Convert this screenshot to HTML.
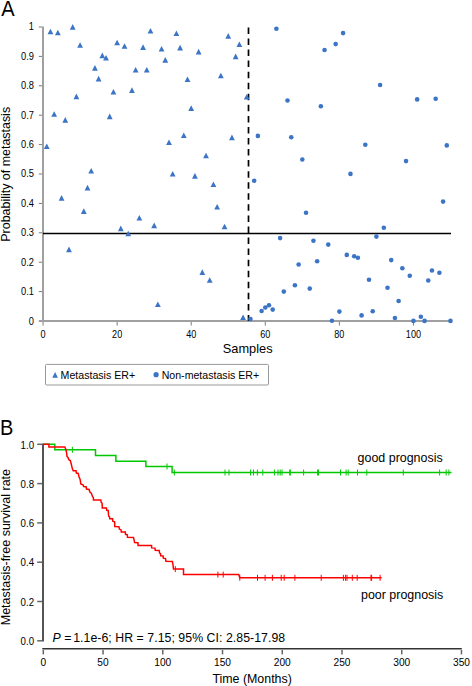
<!DOCTYPE html>
<html><head><meta charset="utf-8"><style>
html,body{margin:0;padding:0;background:#fff;width:472px;height:686px;overflow:hidden}
svg{display:block}
text{font-family:"Liberation Sans", sans-serif;fill:#000}
</style></head><body>
<svg width="472" height="686" viewBox="0 0 472 686">
<text transform="translate(1.2 16.4) scale(0.92 1)" font-size="21.8">A</text>
<line x1="43" y1="26.5" x2="43" y2="322" stroke="#a0a0a0" stroke-width="2"/>
<line x1="38.8" y1="321" x2="451" y2="321" stroke="#a0a0a0" stroke-width="2"/>
<text transform="translate(34 324.60) scale(0.93 1)" font-size="10" text-anchor="end">0</text>
<line x1="38.8" y1="291.60" x2="42" y2="291.60" stroke="#7a7a7a" stroke-width="1"/>
<text transform="translate(34 295.00) scale(0.93 1)" font-size="10" text-anchor="end">0.1</text>
<line x1="38.8" y1="262.20" x2="42" y2="262.20" stroke="#7a7a7a" stroke-width="1"/>
<text transform="translate(34 265.60) scale(0.93 1)" font-size="10" text-anchor="end">0.2</text>
<line x1="38.8" y1="232.80" x2="42" y2="232.80" stroke="#7a7a7a" stroke-width="1"/>
<text transform="translate(34 236.20) scale(0.93 1)" font-size="10" text-anchor="end">0.3</text>
<line x1="38.8" y1="203.40" x2="42" y2="203.40" stroke="#7a7a7a" stroke-width="1"/>
<text transform="translate(34 206.80) scale(0.93 1)" font-size="10" text-anchor="end">0.4</text>
<line x1="38.8" y1="174.00" x2="42" y2="174.00" stroke="#7a7a7a" stroke-width="1"/>
<text transform="translate(34 177.20) scale(0.93 1)" font-size="10" text-anchor="end">0.5</text>
<line x1="38.8" y1="144.60" x2="42" y2="144.60" stroke="#7a7a7a" stroke-width="1"/>
<text transform="translate(34 148.00) scale(0.93 1)" font-size="10" text-anchor="end">0.6</text>
<line x1="38.8" y1="115.20" x2="42" y2="115.20" stroke="#7a7a7a" stroke-width="1"/>
<text transform="translate(34 118.60) scale(0.93 1)" font-size="10" text-anchor="end">0.7</text>
<line x1="38.8" y1="85.80" x2="42" y2="85.80" stroke="#7a7a7a" stroke-width="1"/>
<text transform="translate(34 89.20) scale(0.93 1)" font-size="10" text-anchor="end">0.8</text>
<line x1="38.8" y1="56.40" x2="42" y2="56.40" stroke="#7a7a7a" stroke-width="1"/>
<text transform="translate(34 59.80) scale(0.93 1)" font-size="10" text-anchor="end">0.9</text>
<line x1="38.8" y1="27.00" x2="42" y2="27.00" stroke="#7a7a7a" stroke-width="1"/>
<text transform="translate(34 30.20) scale(0.93 1)" font-size="10" text-anchor="end">1</text>
<line x1="43.05" y1="322" x2="43.05" y2="325.5" stroke="#7a7a7a" stroke-width="1"/>
<text transform="translate(43.05 337.9) scale(0.91 1)" font-size="10" text-anchor="middle">0</text>
<line x1="117.13" y1="322" x2="117.13" y2="325.5" stroke="#7a7a7a" stroke-width="1"/>
<text transform="translate(117.13 337.9) scale(0.91 1)" font-size="10" text-anchor="middle">20</text>
<line x1="191.21" y1="322" x2="191.21" y2="325.5" stroke="#7a7a7a" stroke-width="1"/>
<text transform="translate(191.21 337.9) scale(0.91 1)" font-size="10" text-anchor="middle">40</text>
<line x1="265.29" y1="322" x2="265.29" y2="325.5" stroke="#7a7a7a" stroke-width="1"/>
<text transform="translate(265.29 337.9) scale(0.91 1)" font-size="10" text-anchor="middle">60</text>
<line x1="339.37" y1="322" x2="339.37" y2="325.5" stroke="#7a7a7a" stroke-width="1"/>
<text transform="translate(339.37 337.9) scale(0.91 1)" font-size="10" text-anchor="middle">80</text>
<line x1="413.45" y1="322" x2="413.45" y2="325.5" stroke="#7a7a7a" stroke-width="1"/>
<text transform="translate(413.45 337.9) scale(0.91 1)" font-size="10" text-anchor="middle">100</text>
<line x1="43" y1="233.5" x2="451" y2="233.5" stroke="#000" stroke-width="1.5"/>
<line x1="248.5" y1="27.4" x2="248.5" y2="321" stroke="#000" stroke-width="1.7" stroke-dasharray="6.5 4.56"/>
<path d="M46.75 143.40L49.65 149.00L43.85 149.00Z" fill="#3c74c6"/>
<path d="M50.46 28.70L53.36 34.30L47.56 34.30Z" fill="#3c74c6"/>
<path d="M54.16 111.20L57.06 116.80L51.26 116.80Z" fill="#3c74c6"/>
<path d="M57.87 29.70L60.77 35.30L54.97 35.30Z" fill="#3c74c6"/>
<path d="M61.57 195.10L64.47 200.70L58.67 200.70Z" fill="#3c74c6"/>
<path d="M65.27 117.10L68.17 122.70L62.37 122.70Z" fill="#3c74c6"/>
<path d="M68.98 246.60L71.88 252.20L66.08 252.20Z" fill="#3c74c6"/>
<path d="M72.68 24.10L75.58 29.70L69.78 29.70Z" fill="#3c74c6"/>
<path d="M76.39 93.60L79.29 99.20L73.49 99.20Z" fill="#3c74c6"/>
<path d="M80.09 42.20L82.99 47.80L77.19 47.80Z" fill="#3c74c6"/>
<path d="M83.79 208.30L86.69 213.90L80.89 213.90Z" fill="#3c74c6"/>
<path d="M87.50 184.80L90.40 190.40L84.60 190.40Z" fill="#3c74c6"/>
<path d="M91.20 168.00L94.10 173.60L88.30 173.60Z" fill="#3c74c6"/>
<path d="M94.91 65.10L97.81 70.70L92.01 70.70Z" fill="#3c74c6"/>
<path d="M98.61 75.80L101.51 81.40L95.71 81.40Z" fill="#3c74c6"/>
<path d="M102.31 52.60L105.21 58.20L99.41 58.20Z" fill="#3c74c6"/>
<path d="M106.02 54.90L108.92 60.50L103.12 60.50Z" fill="#3c74c6"/>
<path d="M109.72 113.60L112.62 119.20L106.82 119.20Z" fill="#3c74c6"/>
<path d="M113.43 89.00L116.33 94.60L110.53 94.60Z" fill="#3c74c6"/>
<path d="M117.13 39.70L120.03 45.30L114.23 45.30Z" fill="#3c74c6"/>
<path d="M120.83 225.60L123.73 231.20L117.93 231.20Z" fill="#3c74c6"/>
<path d="M124.54 43.20L127.44 48.80L121.64 48.80Z" fill="#3c74c6"/>
<path d="M128.24 230.70L131.14 236.30L125.34 236.30Z" fill="#3c74c6"/>
<path d="M131.95 87.30L134.85 92.90L129.05 92.90Z" fill="#3c74c6"/>
<path d="M135.65 67.00L138.55 72.60L132.75 72.60Z" fill="#3c74c6"/>
<path d="M139.35 214.90L142.25 220.50L136.45 220.50Z" fill="#3c74c6"/>
<path d="M143.06 44.30L145.96 49.90L140.16 49.90Z" fill="#3c74c6"/>
<path d="M146.76 67.00L149.66 72.60L143.86 72.60Z" fill="#3c74c6"/>
<path d="M150.47 28.00L153.37 33.60L147.57 33.60Z" fill="#3c74c6"/>
<path d="M154.17 222.60L157.07 228.20L151.27 228.20Z" fill="#3c74c6"/>
<path d="M157.87 301.50L160.77 307.10L154.97 307.10Z" fill="#3c74c6"/>
<path d="M161.58 46.00L164.48 51.60L158.68 51.60Z" fill="#3c74c6"/>
<path d="M165.28 57.10L168.18 62.70L162.38 62.70Z" fill="#3c74c6"/>
<path d="M168.99 139.50L171.89 145.10L166.09 145.10Z" fill="#3c74c6"/>
<path d="M172.69 171.00L175.59 176.60L169.79 176.60Z" fill="#3c74c6"/>
<path d="M176.39 30.40L179.29 36.00L173.49 36.00Z" fill="#3c74c6"/>
<path d="M180.10 44.80L183.00 50.40L177.20 50.40Z" fill="#3c74c6"/>
<path d="M183.80 132.40L186.70 138.00L180.90 138.00Z" fill="#3c74c6"/>
<path d="M187.51 76.50L190.41 82.10L184.61 82.10Z" fill="#3c74c6"/>
<path d="M191.21 105.30L194.11 110.90L188.31 110.90Z" fill="#3c74c6"/>
<path d="M194.91 173.10L197.81 178.70L192.01 178.70Z" fill="#3c74c6"/>
<path d="M198.62 48.80L201.52 54.40L195.72 54.40Z" fill="#3c74c6"/>
<path d="M202.32 269.30L205.22 274.90L199.42 274.90Z" fill="#3c74c6"/>
<path d="M206.03 152.70L208.93 158.30L203.13 158.30Z" fill="#3c74c6"/>
<path d="M209.73 277.20L212.63 282.80L206.83 282.80Z" fill="#3c74c6"/>
<path d="M213.43 181.50L216.33 187.10L210.53 187.10Z" fill="#3c74c6"/>
<path d="M217.14 203.90L220.04 209.50L214.24 209.50Z" fill="#3c74c6"/>
<path d="M220.84 72.70L223.74 78.30L217.94 78.30Z" fill="#3c74c6"/>
<path d="M224.55 223.70L227.45 229.30L221.65 229.30Z" fill="#3c74c6"/>
<path d="M228.25 33.10L231.15 38.70L225.35 38.70Z" fill="#3c74c6"/>
<path d="M231.95 134.60L234.85 140.20L229.05 140.20Z" fill="#3c74c6"/>
<path d="M235.66 53.60L238.56 59.20L232.76 59.20Z" fill="#3c74c6"/>
<path d="M239.36 41.40L242.26 47.00L236.46 47.00Z" fill="#3c74c6"/>
<path d="M243.07 314.50L245.97 320.10L240.17 320.10Z" fill="#3c74c6"/>
<path d="M246.77 93.90L249.67 99.50L243.87 99.50Z" fill="#3c74c6"/>
<circle cx="250.47" cy="319.10" r="2.3" fill="#3c74c6"/>
<circle cx="254.18" cy="180.80" r="2.3" fill="#3c74c6"/>
<circle cx="257.88" cy="135.90" r="2.3" fill="#3c74c6"/>
<circle cx="261.59" cy="311.00" r="2.3" fill="#3c74c6"/>
<circle cx="265.29" cy="307.50" r="2.3" fill="#3c74c6"/>
<circle cx="268.99" cy="305.30" r="2.3" fill="#3c74c6"/>
<circle cx="272.70" cy="309.60" r="2.3" fill="#3c74c6"/>
<circle cx="276.40" cy="28.80" r="2.3" fill="#3c74c6"/>
<circle cx="280.11" cy="238.10" r="2.3" fill="#3c74c6"/>
<circle cx="283.81" cy="291.60" r="2.3" fill="#3c74c6"/>
<circle cx="287.51" cy="100.50" r="2.3" fill="#3c74c6"/>
<circle cx="291.22" cy="137.30" r="2.3" fill="#3c74c6"/>
<circle cx="294.92" cy="285.20" r="2.3" fill="#3c74c6"/>
<circle cx="298.63" cy="264.50" r="2.3" fill="#3c74c6"/>
<circle cx="302.33" cy="159.50" r="2.3" fill="#3c74c6"/>
<circle cx="306.03" cy="212.70" r="2.3" fill="#3c74c6"/>
<circle cx="309.74" cy="288.60" r="2.3" fill="#3c74c6"/>
<circle cx="313.44" cy="240.70" r="2.3" fill="#3c74c6"/>
<circle cx="317.15" cy="261.30" r="2.3" fill="#3c74c6"/>
<circle cx="320.85" cy="106.30" r="2.3" fill="#3c74c6"/>
<circle cx="324.55" cy="50.00" r="2.3" fill="#3c74c6"/>
<circle cx="328.26" cy="244.60" r="2.3" fill="#3c74c6"/>
<circle cx="331.96" cy="320.80" r="2.3" fill="#3c74c6"/>
<circle cx="335.67" cy="44.10" r="2.3" fill="#3c74c6"/>
<circle cx="339.37" cy="311.60" r="2.3" fill="#3c74c6"/>
<circle cx="343.07" cy="33.10" r="2.3" fill="#3c74c6"/>
<circle cx="346.78" cy="254.90" r="2.3" fill="#3c74c6"/>
<circle cx="350.48" cy="173.90" r="2.3" fill="#3c74c6"/>
<circle cx="354.19" cy="256.30" r="2.3" fill="#3c74c6"/>
<circle cx="357.89" cy="257.80" r="2.3" fill="#3c74c6"/>
<circle cx="361.59" cy="315.40" r="2.3" fill="#3c74c6"/>
<circle cx="365.30" cy="144.80" r="2.3" fill="#3c74c6"/>
<circle cx="369.00" cy="279.80" r="2.3" fill="#3c74c6"/>
<circle cx="372.71" cy="311.20" r="2.3" fill="#3c74c6"/>
<circle cx="376.41" cy="236.60" r="2.3" fill="#3c74c6"/>
<circle cx="380.11" cy="85.00" r="2.3" fill="#3c74c6"/>
<circle cx="383.82" cy="227.70" r="2.3" fill="#3c74c6"/>
<circle cx="387.52" cy="287.70" r="2.3" fill="#3c74c6"/>
<circle cx="391.23" cy="260.10" r="2.3" fill="#3c74c6"/>
<circle cx="394.93" cy="318.00" r="2.3" fill="#3c74c6"/>
<circle cx="398.63" cy="301.00" r="2.3" fill="#3c74c6"/>
<circle cx="402.34" cy="268.20" r="2.3" fill="#3c74c6"/>
<circle cx="406.04" cy="161.10" r="2.3" fill="#3c74c6"/>
<circle cx="409.75" cy="275.80" r="2.3" fill="#3c74c6"/>
<circle cx="413.45" cy="320.90" r="2.3" fill="#3c74c6"/>
<circle cx="417.15" cy="99.40" r="2.3" fill="#3c74c6"/>
<circle cx="420.86" cy="316.70" r="2.3" fill="#3c74c6"/>
<circle cx="424.56" cy="320.90" r="2.3" fill="#3c74c6"/>
<circle cx="428.27" cy="280.50" r="2.3" fill="#3c74c6"/>
<circle cx="431.97" cy="270.50" r="2.3" fill="#3c74c6"/>
<circle cx="435.67" cy="98.80" r="2.3" fill="#3c74c6"/>
<circle cx="439.38" cy="272.80" r="2.3" fill="#3c74c6"/>
<circle cx="443.08" cy="201.60" r="2.3" fill="#3c74c6"/>
<circle cx="446.79" cy="145.40" r="2.3" fill="#3c74c6"/>
<circle cx="450.49" cy="320.90" r="2.3" fill="#3c74c6"/>
<text transform="translate(10.4 174.3) rotate(-90)" font-size="12.45" text-anchor="middle">Probability of metastasis</text>
<text x="247.7" y="353" font-size="12.8" text-anchor="middle">Samples</text>
<rect x="45.5" y="364.4" width="223" height="20.6" fill="none" stroke="#999" stroke-width="1" rx="1"/>
<path d="M55.10 372.10L57.90 377.70L52.30 377.70Z" fill="#3c74c6"/>
<text x="60.6" y="378.8" font-size="10.6">Metastasis ER+</text>
<circle cx="156.1" cy="374.7" r="2.6" fill="#3c74c6"/>
<text x="161.7" y="378.8" font-size="10.6">Non-metastasis ER+</text>
<text transform="translate(0.1 434.7) scale(0.93 1)" font-size="21.5">B</text>
<line x1="43" y1="443.5" x2="43" y2="641.5" stroke="#555" stroke-width="2"/>
<line x1="37.2" y1="640.80" x2="42" y2="640.80" stroke="#666" stroke-width="1.5"/>
<text transform="translate(34.1 645.00) scale(0.97 1)" font-size="10" text-anchor="end">0.0</text>
<line x1="37.2" y1="601.50" x2="42" y2="601.50" stroke="#666" stroke-width="1.5"/>
<text transform="translate(34.1 605.70) scale(0.97 1)" font-size="10" text-anchor="end">0.2</text>
<line x1="37.2" y1="562.20" x2="42" y2="562.20" stroke="#666" stroke-width="1.5"/>
<text transform="translate(34.1 566.40) scale(0.97 1)" font-size="10" text-anchor="end">0.4</text>
<line x1="37.2" y1="522.90" x2="42" y2="522.90" stroke="#666" stroke-width="1.5"/>
<text transform="translate(34.1 527.10) scale(0.97 1)" font-size="10" text-anchor="end">0.6</text>
<line x1="37.2" y1="483.60" x2="42" y2="483.60" stroke="#666" stroke-width="1.5"/>
<text transform="translate(34.1 487.80) scale(0.97 1)" font-size="10" text-anchor="end">0.8</text>
<line x1="37.2" y1="444.30" x2="42" y2="444.30" stroke="#666" stroke-width="1.5"/>
<text transform="translate(34.1 448.50) scale(0.97 1)" font-size="10" text-anchor="end">1.0</text>
<line x1="42.3" y1="648.7" x2="461.8" y2="648.7" stroke="#333" stroke-width="1.5"/>
<line x1="43.30" y1="650" x2="43.30" y2="654.4" stroke="#666" stroke-width="1.5"/>
<text transform="translate(43.30 666.4) scale(1 1)" font-size="10.2" text-anchor="middle">0</text>
<line x1="103.04" y1="650" x2="103.04" y2="654.4" stroke="#666" stroke-width="1.5"/>
<text transform="translate(103.04 666.4) scale(1 1)" font-size="10.2" text-anchor="middle">50</text>
<line x1="162.78" y1="650" x2="162.78" y2="654.4" stroke="#666" stroke-width="1.5"/>
<text transform="translate(162.78 666.4) scale(1 1)" font-size="10.2" text-anchor="middle">100</text>
<line x1="222.52" y1="650" x2="222.52" y2="654.4" stroke="#666" stroke-width="1.5"/>
<text transform="translate(222.52 666.4) scale(1 1)" font-size="10.2" text-anchor="middle">150</text>
<line x1="282.26" y1="650" x2="282.26" y2="654.4" stroke="#666" stroke-width="1.5"/>
<text transform="translate(282.26 666.4) scale(1 1)" font-size="10.2" text-anchor="middle">200</text>
<line x1="342.00" y1="650" x2="342.00" y2="654.4" stroke="#666" stroke-width="1.5"/>
<text transform="translate(342.00 666.4) scale(1 1)" font-size="10.2" text-anchor="middle">250</text>
<line x1="401.74" y1="650" x2="401.74" y2="654.4" stroke="#666" stroke-width="1.5"/>
<text transform="translate(401.74 666.4) scale(1 1)" font-size="10.2" text-anchor="middle">300</text>
<line x1="461.48" y1="650" x2="461.48" y2="654.4" stroke="#666" stroke-width="1.5"/>
<text transform="translate(461.48 666.4) scale(1 1)" font-size="10.2" text-anchor="middle">350</text>
<text x="252.1" y="682.6" font-size="12.4" text-anchor="middle">Time (Months)</text>
<text transform="translate(10.4 547.1) rotate(-90)" font-size="12.5" text-anchor="middle">Metastasis-free survival rate</text>
<text x="52.6" y="641.5" font-size="12.3" letter-spacing="0.05"><tspan font-style="italic">P</tspan> =<tspan dx="1.6">1.1e-6;</tspan> HR = 7.15; 95% CI: 2.85-17.98</text>
<text x="357.6" y="462.4" font-size="12.45">good prognosis</text>
<text x="361" y="599" font-size="12.45">poor prognosis</text>
<path d="M43.2 444.3H54.8V449.8H95.5V455.6H115.9V461.2H145.9V466.5H172.1V472.5H451.5" fill="none" stroke="#00c800" stroke-width="1.5"/>
<line x1="72.4" y1="446.8" x2="72.4" y2="452.8" stroke="#00c800" stroke-width="1"/>
<line x1="167" y1="463.5" x2="167" y2="469.5" stroke="#00c800" stroke-width="1"/>
<line x1="174.3" y1="469.5" x2="174.3" y2="475.5" stroke="#00c800" stroke-width="1"/>
<line x1="225" y1="469.5" x2="225" y2="475.5" stroke="#00c800" stroke-width="1"/>
<line x1="229" y1="469.5" x2="229" y2="475.5" stroke="#00c800" stroke-width="1"/>
<line x1="250.6" y1="469.5" x2="250.6" y2="475.5" stroke="#00c800" stroke-width="1"/>
<line x1="253.5" y1="469.5" x2="253.5" y2="475.5" stroke="#00c800" stroke-width="1"/>
<line x1="257.4" y1="469.5" x2="257.4" y2="475.5" stroke="#00c800" stroke-width="1"/>
<line x1="262.8" y1="469.5" x2="262.8" y2="475.5" stroke="#00c800" stroke-width="1"/>
<line x1="274.4" y1="469.5" x2="274.4" y2="475.5" stroke="#00c800" stroke-width="1"/>
<line x1="278" y1="469.5" x2="278" y2="475.5" stroke="#00c800" stroke-width="1"/>
<line x1="280.2" y1="469.5" x2="280.2" y2="475.5" stroke="#00c800" stroke-width="1"/>
<line x1="282" y1="469.5" x2="282" y2="475.5" stroke="#00c800" stroke-width="1"/>
<line x1="289.7" y1="469.5" x2="289.7" y2="475.5" stroke="#00c800" stroke-width="1"/>
<line x1="290.3" y1="469.5" x2="290.3" y2="475.5" stroke="#00c800" stroke-width="1"/>
<line x1="303.6" y1="469.5" x2="303.6" y2="475.5" stroke="#00c800" stroke-width="1"/>
<line x1="317.6" y1="469.5" x2="317.6" y2="475.5" stroke="#00c800" stroke-width="1"/>
<line x1="318.5" y1="469.5" x2="318.5" y2="475.5" stroke="#00c800" stroke-width="1"/>
<line x1="340.5" y1="469.5" x2="340.5" y2="475.5" stroke="#00c800" stroke-width="1"/>
<line x1="346.1" y1="469.5" x2="346.1" y2="475.5" stroke="#00c800" stroke-width="1"/>
<line x1="348.2" y1="469.5" x2="348.2" y2="475.5" stroke="#00c800" stroke-width="1"/>
<line x1="357.5" y1="469.5" x2="357.5" y2="475.5" stroke="#00c800" stroke-width="1"/>
<line x1="366.8" y1="469.5" x2="366.8" y2="475.5" stroke="#00c800" stroke-width="1"/>
<line x1="403.3" y1="469.5" x2="403.3" y2="475.5" stroke="#00c800" stroke-width="1"/>
<line x1="439.6" y1="469.5" x2="439.6" y2="475.5" stroke="#00c800" stroke-width="1"/>
<line x1="446.2" y1="469.5" x2="446.2" y2="475.5" stroke="#00c800" stroke-width="1"/>
<line x1="448.9" y1="469.5" x2="448.9" y2="475.5" stroke="#00c800" stroke-width="1"/>
<path d="M43.2 444.3 L48.9 444.3 L48.9 447.0 L64.8 447.0 L65.9 449.4 L66.6 452.9 L67.0 456.4 L68.1 457.7 L69.0 459.9 L70.3 460.5 L71.2 463.8 L72.3 468.6 L73.2 470.8 L76.0 470.8 L76.4 473.1 L78.2 473.5 L79.1 477 L80.2 479.6 L80.8 484 L83.0 484.9 L83.7 486.6 L86.1 486.8 L86.5 489 L89.1 489.5 L90.0 492.3 L91.3 493.2 L92.6 496.7 L93.3 497.6 L93.5 500 L100.8 500 L101.2 502.4 L102.1 503.3 L102.3 507.9 L106.4 507.9 L106.7 510.3 L108.2 510.5 L108.6 516 L109.5 516.9 L109.8 518.7 L112.6 518.8 L112.8 521.2 L114.6 521.8 L114.8 526.5 L118.9 526.7 L119.4 529.1 L121.1 529.9 L121.3 532.0 L125.3 532.1 L125.5 534.3 L127.3 534.8 L127.5 537.3 L133.5 537.4 L134.0 539.6 L134.6 542.6 L137.9 542.7 L138.1 545.4 L151.5 545.5 L151.7 547.9 L155 548.1 L155.2 550.3 L159.2 550.5 L159.6 553.1 L160.5 553.6 L160.7 555.8 L163.1 556 L163.3 558.2 L165.5 558.6 L165.9 561.2 L172.4 561.4 L172.9 564 L173.5 569.1 L183.5 569.1 L183.5 574.6 L238.7 574.6 L239.8 577.8 L381.6 577.8" fill="none" stroke="#ff0000" stroke-width="1.5" stroke-linejoin="miter"/>
<line x1="175.3" y1="566.1" x2="175.3" y2="572.1" stroke="#ff0000" stroke-width="1"/>
<line x1="217.9" y1="571.6" x2="217.9" y2="577.6" stroke="#ff0000" stroke-width="1"/>
<line x1="223.2" y1="571.6" x2="223.2" y2="577.6" stroke="#ff0000" stroke-width="1"/>
<line x1="239.8" y1="574.8" x2="239.8" y2="580.8" stroke="#ff0000" stroke-width="1"/>
<line x1="257.5" y1="574.8" x2="257.5" y2="580.8" stroke="#ff0000" stroke-width="1"/>
<line x1="265.1" y1="574.8" x2="265.1" y2="580.8" stroke="#ff0000" stroke-width="1"/>
<line x1="272.4" y1="574.8" x2="272.4" y2="580.8" stroke="#ff0000" stroke-width="1"/>
<line x1="281.2" y1="574.8" x2="281.2" y2="580.8" stroke="#ff0000" stroke-width="1"/>
<line x1="284.2" y1="574.8" x2="284.2" y2="580.8" stroke="#ff0000" stroke-width="1"/>
<line x1="294.9" y1="574.8" x2="294.9" y2="580.8" stroke="#ff0000" stroke-width="1"/>
<line x1="321.2" y1="574.8" x2="321.2" y2="580.8" stroke="#ff0000" stroke-width="1"/>
<line x1="343.4" y1="574.8" x2="343.4" y2="580.8" stroke="#ff0000" stroke-width="1"/>
<line x1="345.6" y1="574.8" x2="345.6" y2="580.8" stroke="#ff0000" stroke-width="1"/>
<line x1="347" y1="574.8" x2="347" y2="580.8" stroke="#ff0000" stroke-width="1"/>
<line x1="352.3" y1="574.8" x2="352.3" y2="580.8" stroke="#ff0000" stroke-width="1"/>
<line x1="357.2" y1="574.8" x2="357.2" y2="580.8" stroke="#ff0000" stroke-width="1"/>
<line x1="371" y1="574.8" x2="371" y2="580.8" stroke="#ff0000" stroke-width="1"/>
<line x1="371.6" y1="574.8" x2="371.6" y2="580.8" stroke="#ff0000" stroke-width="1"/>
<line x1="380.1" y1="574.8" x2="380.1" y2="580.8" stroke="#ff0000" stroke-width="1"/>
</svg>
</body></html>
